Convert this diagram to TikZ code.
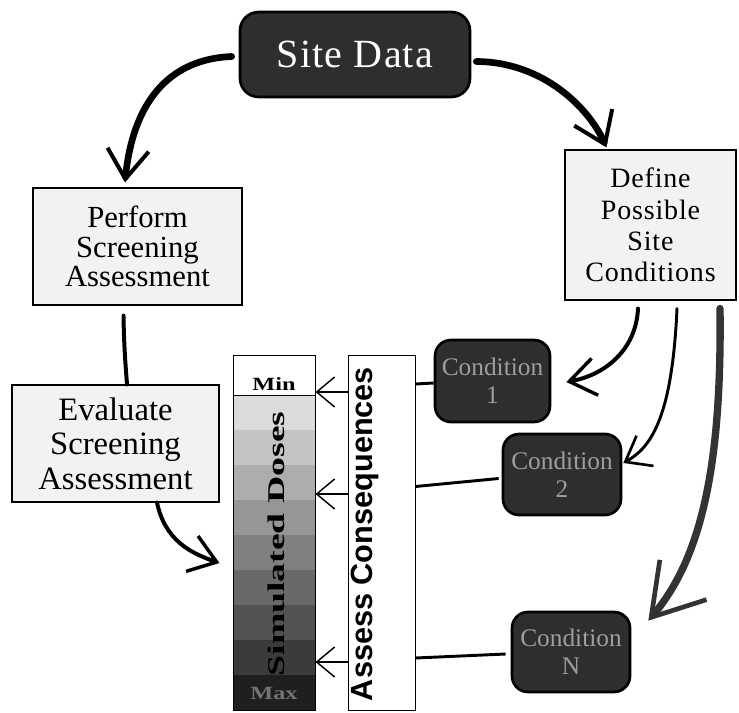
\documentclass[tikz,border=0pt]{standalone}
\usepackage{fontspec}
\setmainfont{Liberation Serif}
\newfontfamily\sansfam{Liberation Sans}
\usetikzlibrary{arrows.meta,calc}
\begin{document}
\begin{tikzpicture}[x=0.75pt,y=-0.75pt,
  darkbox/.style={draw=black, line width=2pt, fill=black!82, inner sep=0pt, align=center},
  lightbox/.style={draw=black, line width=0.9pt, fill=black!5, inner sep=0pt, align=center},
  bigcurve/.style={line width=5pt, line cap=round, -{Straight Barb[length=22pt,width=31pt,line width=3pt]}},
  medcurve/.style={line width=3pt, line cap=round, -{Straight Barb[length=19.5pt,width=28pt,line width=2.6pt]}},
  thincurve/.style={line width=2.2pt, line cap=round, -{Straight Barb[length=17pt,width=26pt,line width=2pt]}},
  thickcurve/.style={draw=black!80, line width=5.5pt, line cap=round, -{Straight Barb[length=37pt,width=46pt,line width=3.5pt]}},
  smallarrow/.style={line width=1.3pt, -{Straight Barb[length=13.5pt,width=22.5pt,line width=1.1pt]}},
  condline/.style={line width=2.2pt},
  condtext/.style={text=black!38, font=\fontsize{19}{21}\selectfont}
]
\useasboundingbox (0,0) rectangle (739,713);

% Site Data
\node[darkbox, rounded corners=14pt, minimum width=172.5pt, minimum height=63.75pt,
      text=white, font=\addfontfeatures{LetterSpace=3}\fontsize{30}{32}\selectfont] (site) at (355,54.5) {Site Data};

% light boxes
\node[lightbox, minimum width=156.75pt, minimum height=87.75pt,
      font=\fontsize{23}{22}\selectfont] (perf) at (137.5,246.5) {Perform\\Screening\\Assessment};
\node[lightbox, minimum width=128.25pt, minimum height=112.5pt,
      font=\addfontfeatures{LetterSpace=3}\fontsize{21}{23.5}\selectfont] (define) at (650.5,225) {Define\\Possible\\Site\\Conditions};
\node[lightbox, minimum width=155.25pt, minimum height=87.75pt,
      font=\fontsize{24.5}{26}\selectfont] (eval) at (115.5,443.5) {Evaluate\\Screening\\Assessment};

% Simulated doses column
\fill[white] (233,355) rectangle (315,395);
\foreach \i in {0,...,7} {
  \pgfmathsetmacro\c{14+\i*9}
  \fill[black!\c] (233,{395+\i*35}) rectangle (315,{430+\i*35});
}
\fill[black!88] (233,675) rectangle (315,710);
\node[draw=black, line width=0.75pt, minimum width=61.5pt, minimum height=266.25pt, inner sep=0pt] (doses) at (274,532.5) {};
\draw[line width=0.75pt] (233,395) -- (315,395);
\node[font=\bfseries\fontsize{14}{14}\selectfont, inner sep=0pt] (minlbl) at (274,384) {\scalebox{1.3}[1]{Min}};
\node[font=\bfseries\fontsize{14}{14}\selectfont, inner sep=0pt, text=black!55] (maxlbl) at (274,693) {\scalebox{1.3}[1]{Max}};
\node[rotate=90, font=\bfseries\fontsize{18}{18}\selectfont, inner sep=0pt] (simtext) at (276,544) {\scalebox{1.57}[1]{Simulated Doses}};

% Assess consequences
\node[draw=black, line width=0.75pt, fill=white, minimum width=50.25pt, minimum height=266.25pt, inner sep=0pt] (assess) at (381.5,532.5) {};
\node[rotate=90, font=\sansfam\bfseries\fontsize{23}{23}\selectfont, inner sep=0pt] (assesstext) at (365,534) {Assess Consequences};

% Conditions
\node[darkbox, rounded corners=12pt, minimum width=86.25pt, minimum height=61.5pt, condtext] (c1) at (492.5,381) {Condition\\1};
\node[darkbox, rounded corners=12pt, minimum width=88.5pt, minimum height=60.75pt, condtext] (c2) at (562,474.5) {Condition\\2};
\node[darkbox, rounded corners=12pt, minimum width=88.5pt, minimum height=60pt, condtext] (cN) at (571,652) {Condition\\N};

% connectors
\draw[bigcurve] ($(site.west)+(-7,2)$) .. controls (150,60) and (130,130) .. ($(perf.north)+(-12.5,-5)$);
\draw[bigcurve] ($(site.east)+(5,7)$) .. controls (545,62) and (590,110) .. ($(define.north west)+(42,-2)$);
\draw[line width=3pt, line cap=round] ($(perf.south)+(-14,10)$) .. controls (124,350) and (126,370) .. ($(eval.north)+(11.5,0)$);
\draw[medcurve] ($(eval.south)+(41.5,0)$) .. controls (165,540) and (190,553) .. ($(doses.west)+(-13,30.5)$);

\draw[medcurve] ($(define.south)+(-12.5,8)$) .. controls (636,350) and (605,375) .. ($(c1.east)+(15,1)$);
\draw[thincurve] ($(define.south)+(26.5,8)$) .. controls (672,420) and (650,448) .. ($(c2.east)+(1,-11.5)$);
\draw[thickcurve] ($(define.south)+(69.5,8)$) .. controls (722,470) and (700,560) .. ($(cN.north east)+(17,10)$);

\coordinate (a1) at (0,392);
\coordinate (a2) at (0,494);
\coordinate (a3) at (0,662);
\draw[smallarrow] (assess.west |- a1) -- (doses.east |- a1);
\draw[smallarrow] (assess.west |- a2) -- (doses.east |- a2);
\draw[smallarrow] (assess.west |- a3) -- (doses.east |- a3);

\draw[condline] ($(c1.west)+(0,2)$) -- ($(assess.east |- c1.west)+(0,3)$);
\draw[condline] ($(c2.west)+(-3,4)$) -- ($(assess.east |- c2.west)+(0,12)$);
\draw[condline] ($(cN.west)+(-5,2)$) -- ($(assess.east |- cN.west)+(0,6)$);
\end{tikzpicture}
\end{document}
